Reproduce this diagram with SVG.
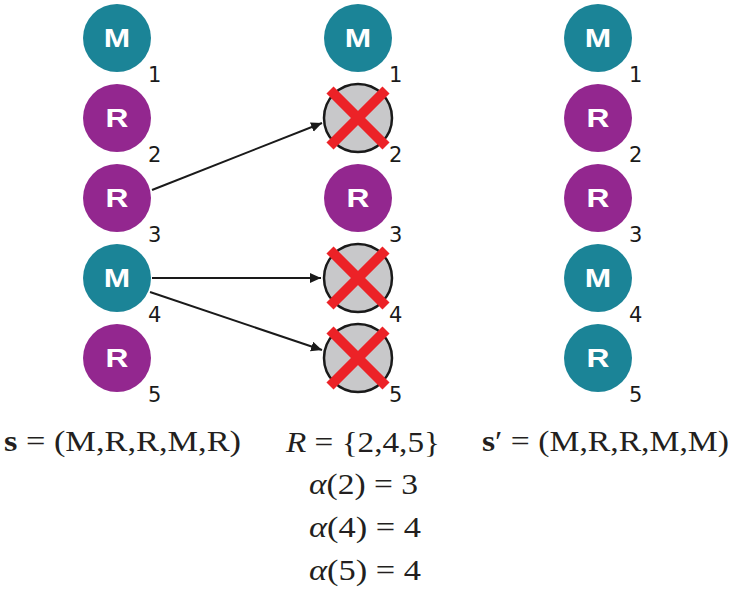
<svg xmlns="http://www.w3.org/2000/svg" width="733" height="593" viewBox="0 0 733 593">
<defs>
<style>
.m{fill:#1b8497}
.r{fill:#93278f}
.g{fill:#c8c8ca;stroke:#1a1a1a;stroke-width:2.5}
.lt{font-family:"Liberation Sans",Arial,sans-serif;font-weight:bold;font-size:25px;fill:#fff;text-anchor:middle}
.n{font-family:"DejaVu Sans","Liberation Sans",sans-serif;font-size:21px;fill:#1a1a1a}
.x{stroke:#ec2227;stroke-width:10;stroke-linecap:butt}
.e{font-family:"Liberation Serif","Times New Roman",serif;font-size:29px;fill:#231f20}
.c{stroke:#1a1a1a;stroke-width:2;fill:none}
</style>
<marker id="ah" markerUnits="userSpaceOnUse" markerWidth="14" markerHeight="12" refX="11" refY="5" orient="auto">
<path d="M0,0 L11,5 L0,10 Z" fill="#1a1a1a"/>
</marker>
</defs>
<rect width="733" height="593" fill="#fff"/>

<g id="L1"><circle class="m" cx="117" cy="38" r="34"/><text class="lt" x="117" y="47" textLength="26.4" lengthAdjust="spacingAndGlyphs">M</text><text class="n" x="148" y="82">1</text></g>
<g id="L2"><circle class="r" cx="117" cy="118" r="34"/><text class="lt" x="117" y="127" textLength="22.9" lengthAdjust="spacingAndGlyphs">R</text><text class="n" x="148" y="162">2</text></g>
<g id="L3"><circle class="r" cx="117" cy="198" r="34"/><text class="lt" x="117" y="207" textLength="22.9" lengthAdjust="spacingAndGlyphs">R</text><text class="n" x="148" y="242">3</text></g>
<g id="L4"><circle class="m" cx="117" cy="278" r="34"/><text class="lt" x="117" y="287" textLength="26.4" lengthAdjust="spacingAndGlyphs">M</text><text class="n" x="148" y="322">4</text></g>
<g id="L5"><circle class="r" cx="117" cy="358" r="34"/><text class="lt" x="117" y="367" textLength="22.9" lengthAdjust="spacingAndGlyphs">R</text><text class="n" x="148" y="402">5</text></g>

<g id="M1"><circle class="m" cx="358" cy="38" r="34"/><text class="lt" x="358" y="47" textLength="26.4" lengthAdjust="spacingAndGlyphs">M</text><text class="n" x="389" y="82">1</text></g>
<g id="M2"><circle class="g" cx="358" cy="118" r="34"/><line class="x" x1="330" y1="90" x2="386" y2="146"/><line class="x" x1="386" y1="90" x2="330" y2="146"/><text class="n" x="389" y="162">2</text></g>
<g id="M3"><circle class="r" cx="358" cy="198" r="34"/><text class="lt" x="358" y="207" textLength="22.9" lengthAdjust="spacingAndGlyphs">R</text><text class="n" x="389" y="242">3</text></g>
<g id="M4"><circle class="g" cx="358" cy="278" r="34"/><line class="x" x1="330" y1="250" x2="386" y2="306"/><line class="x" x1="386" y1="250" x2="330" y2="306"/><text class="n" x="389" y="322">4</text></g>
<g id="M5"><circle class="g" cx="358" cy="358" r="34"/><line class="x" x1="330" y1="330" x2="386" y2="386"/><line class="x" x1="386" y1="330" x2="330" y2="386"/><text class="n" x="389" y="402">5</text></g>

<g id="R1"><circle class="m" cx="598" cy="38" r="34"/><text class="lt" x="598" y="47" textLength="26.4" lengthAdjust="spacingAndGlyphs">M</text><text class="n" x="629" y="82">1</text></g>
<g id="R2"><circle class="r" cx="598" cy="118" r="34"/><text class="lt" x="598" y="127" textLength="22.9" lengthAdjust="spacingAndGlyphs">R</text><text class="n" x="629" y="162">2</text></g>
<g id="R3"><circle class="r" cx="598" cy="198" r="34"/><text class="lt" x="598" y="207" textLength="22.9" lengthAdjust="spacingAndGlyphs">R</text><text class="n" x="629" y="242">3</text></g>
<g id="R4"><circle class="m" cx="598" cy="278" r="34"/><text class="lt" x="598" y="287" textLength="26.4" lengthAdjust="spacingAndGlyphs">M</text><text class="n" x="629" y="322">4</text></g>
<g id="R5"><circle class="m" cx="598" cy="358" r="34"/><text class="lt" x="598" y="367" textLength="22.9" lengthAdjust="spacingAndGlyphs">R</text><text class="n" x="629" y="402">5</text></g>

<g id="connectors">
<line class="c" x1="152" y1="190" x2="322" y2="123" marker-end="url(#ah)"/>
<line class="c" x1="152" y1="278" x2="321" y2="278" marker-end="url(#ah)"/>
<line class="c" x1="150" y1="292" x2="322" y2="350" marker-end="url(#ah)"/>
</g>

<g id="labels">
<text class="e" x="4" y="451" textLength="237" lengthAdjust="spacingAndGlyphs"><tspan font-weight="bold">s</tspan> = (M,R,R,M,R)</text>
<text class="e" x="286" y="452" textLength="154" lengthAdjust="spacingAndGlyphs"><tspan font-style="italic">R</tspan> = {2,4,5}</text>
<text class="e" x="482" y="451" textLength="247" lengthAdjust="spacingAndGlyphs"><tspan font-weight="bold">s</tspan>′ = (M,R,R,M,M)</text>
<text class="e" x="309" y="494" textLength="109" lengthAdjust="spacingAndGlyphs"><tspan font-style="italic">α</tspan>(2) = 3</text>
<text class="e" x="309" y="537" textLength="112" lengthAdjust="spacingAndGlyphs"><tspan font-style="italic">α</tspan>(4) = 4</text>
<text class="e" x="309" y="580" textLength="112" lengthAdjust="spacingAndGlyphs"><tspan font-style="italic">α</tspan>(5) = 4</text>
</g>
</svg>
